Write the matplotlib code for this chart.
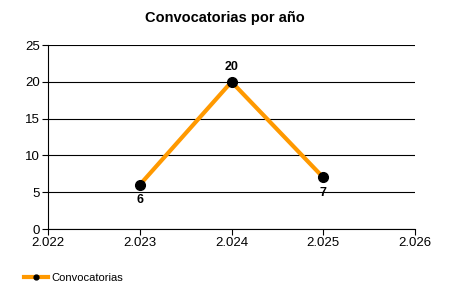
import matplotlib.pyplot as plt

plt.rcParams['font.family'] = ['Liberation Sans', 'DejaVu Sans']

anios = [2023, 2024, 2025]
convocatorias = [6, 20, 7]
xticks = [2022, 2023, 2024, 2025, 2026]
xtick_labels = ["2.022", "2.023", "2.024", "2.025", "2.026"]
yticks = [0, 5, 10, 15, 20, 25]

fig = plt.figure(figsize=(4.5, 3), dpi=100)
ax = fig.add_axes([48/450, 1-229/300, (415-48)/450, (229-45)/300])

ax.plot(anios, convocatorias, color='#FF9900', lw=3, marker='o', ms=7,
        mfc='black', mec='black', label='Convocatorias', zorder=3)

# etiquetas de valores
for x, y in zip(anios, convocatorias):
    if y == max(convocatorias):
        ax.annotate(str(y), (x, y), xytext=(0, 6), textcoords='offset points',
                    ha='center', va='bottom', fontsize=9, fontweight='bold')
    else:
        ax.annotate(str(y), (x, y), xytext=(0, -6.5), textcoords='offset points',
                    ha='center', va='top', fontsize=9, fontweight='bold')

ax.set_xlim(2022, 2026)
ax.set_ylim(0, 25)
ax.set_xticks(xticks, xtick_labels)
ax.set_yticks(yticks)
ax.grid(axis='y', color='black', lw=0.8)
ax.set_axisbelow(True)
for s in ['top', 'right']:
    ax.spines[s].set_visible(False)
ax.tick_params(length=4, width=0.8, labelsize=9.5, pad=2)

fig.suptitle("Convocatorias por año", x=0.5, y=1-18/300, va='center',
             fontsize=10.5, fontweight='bold')

fig.legend(loc='center left', bbox_to_anchor=(0.03, 1-278/300), frameon=False,
           fontsize=8, handlelength=2.2, handletextpad=0.3, markerscale=0.5)

fig.savefig('out.png', dpi=100)
